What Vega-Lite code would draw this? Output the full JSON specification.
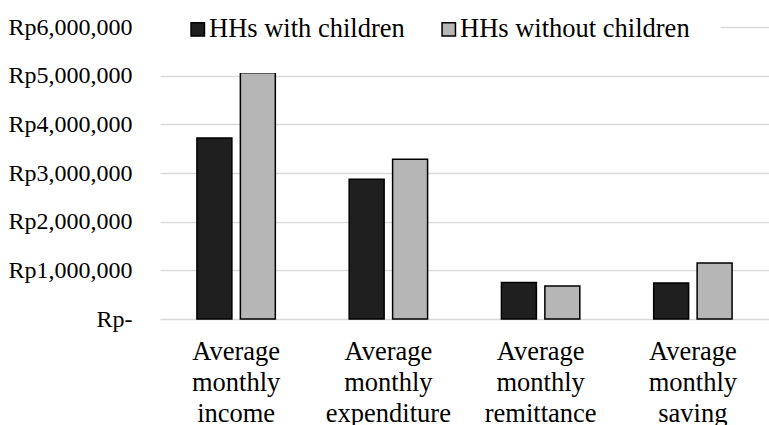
{
  "$schema": "https://vega.github.io/schema/vega-lite/v6.json",
  "width": 609,
  "height": 292,
  "autosize": {"type": "none"},
  "padding": {"left": 160, "top": 27, "right": 0, "bottom": 106},
  "background": "white",
  "config": {
    "view": {"stroke": null},
    "font": "Liberation Serif",
    "legend": {"labelFont": "Liberation Serif"},
    "axis": {"labelFont": "Liberation Serif"}
  },
  "data": {
    "values": [
      {"metric": "Average monthly income", "group": "HHs with children", "value": 3720000},
      {"metric": "Average monthly income", "group": "HHs without children", "value": 5060000},
      {"metric": "Average monthly expenditure", "group": "HHs with children", "value": 2870000},
      {"metric": "Average monthly expenditure", "group": "HHs without children", "value": 3280000},
      {"metric": "Average monthly remittance", "group": "HHs with children", "value": 750000},
      {"metric": "Average monthly remittance", "group": "HHs without children", "value": 680000},
      {"metric": "Average monthly saving", "group": "HHs with children", "value": 740000},
      {"metric": "Average monthly saving", "group": "HHs without children", "value": 1150000}
    ]
  },
  "mark": {"type": "bar", "stroke": "#000000", "strokeWidth": 1.5},
  "encoding": {
    "x": {
      "field": "metric",
      "type": "nominal",
      "sort": null,
      "scale": {"paddingInner": 0.485, "paddingOuter": 0.2425},
      "axis": {
        "title": null,
        "domain": false,
        "ticks": false,
        "labelAngle": 0,
        "labelExpr": "split(datum.value, ' ')",
        "labelFontSize": 26.5,
        "labelLineHeight": 31,
        "labelColor": "#000000",
        "labelPadding": 19,
        "labelOverlap": false,
        "labelBound": false
      }
    },
    "xOffset": {
      "field": "group",
      "type": "nominal",
      "sort": ["HHs with children", "HHs without children"],
      "scale": {"paddingInner": 0.195, "paddingOuter": 0}
    },
    "y": {
      "field": "value",
      "type": "quantitative",
      "scale": {"domain": [0, 6000000], "nice": false},
      "axis": {
        "title": null,
        "domain": false,
        "ticks": false,
        "values": [0, 1000000, 2000000, 3000000, 4000000, 5000000, 6000000],
        "labelExpr": "datum.value == 0 ? 'Rp-' : 'Rp' + format(datum.value, ',')",
        "labelFontSize": 24,
        "labelColor": "#000000",
        "labelPadding": 28,
        "labelBaseline": "middle",
        "grid": true,
        "gridColor": "#d9d9d9",
        "gridWidth": 1.5,
        "encode": {
          "labels": {
            "enter": {"dx": {"signal": "datum.value === 0 ? -12 : 0"}},
            "update": {"dx": {"signal": "datum.value === 0 ? -12 : 0"}}
          }
        }
      }
    },
    "color": {
      "field": "group",
      "type": "nominal",
      "sort": ["HHs with children", "HHs without children"],
      "scale": {"range": ["#1f1f1f", "#b6b6b6"]},
      "legend": {
        "title": null,
        "orient": "none",
        "direction": "horizontal",
        "legendX": -5.5,
        "legendY": -41,
        "padding": 30,
        "fillColor": "white",
        "symbolType": "square",
        "symbolSize": 180,
        "symbolStrokeColor": "#000000",
        "symbolStrokeWidth": 1.5,
        "labelFontSize": 26.5,
        "labelColor": "#000000",
        "labelOffset": -2,
        "columnPadding": 30,
        "labelLimit": 400
      }
    }
  }
}
